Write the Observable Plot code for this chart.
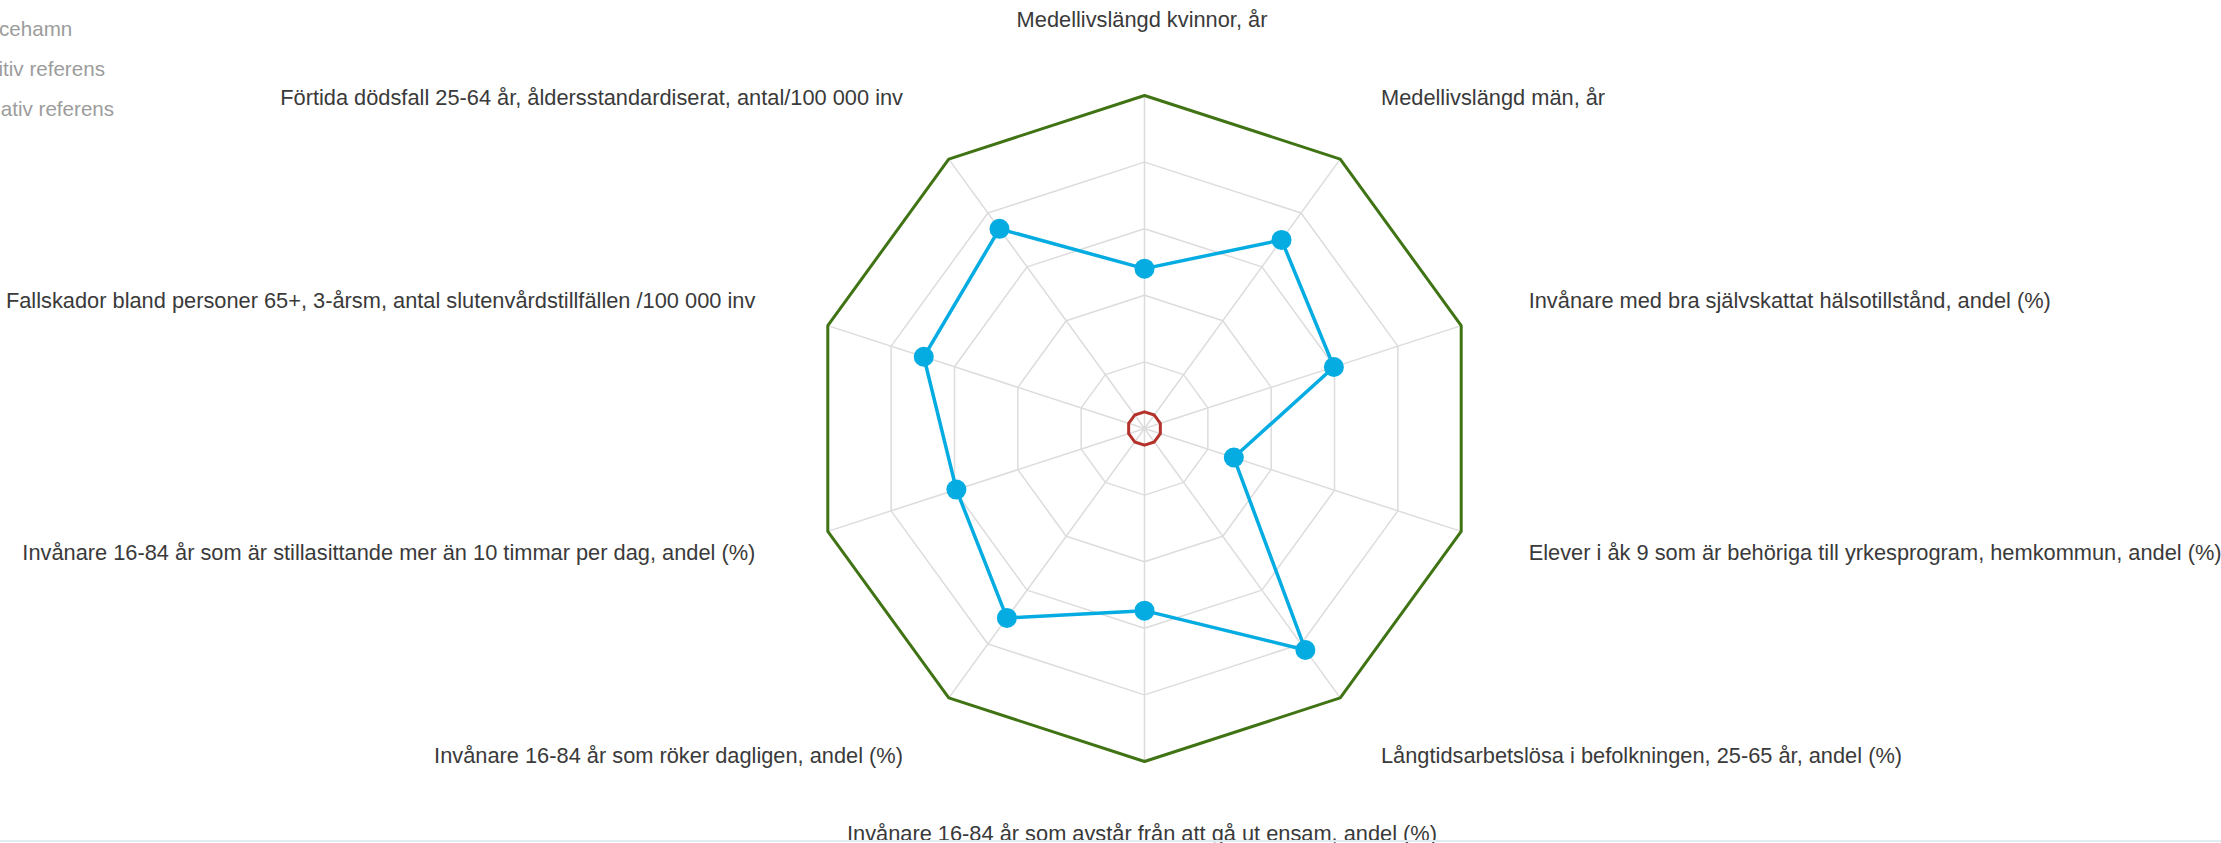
<!DOCTYPE html>
<html><head><meta charset="utf-8">
<script src="https://cdn.jsdelivr.net/npm/d3@7"></script>
<script src="https://cdn.jsdelivr.net/npm/@observablehq/plot@0.6"></script>
<style>
html,body{margin:0;padding:0;background:#fff;width:2221px;height:843px;overflow:hidden;position:relative;font-family:"Liberation Sans",Arial,Helvetica,sans-serif;}
#chart{position:absolute;left:0;top:0;}
#legend{position:absolute;left:-37px;top:9px;font-size:20.6px;color:#9c9c9c;line-height:40px;white-space:nowrap;}
#legend .first{margin-left:36px;}
#rule{position:absolute;left:0;top:840px;width:2221px;height:2px;background:#e2eaf2;}
</style></head><body>
<div id="chart"></div>
<div id="legend"></div>
<div id="rule"></div>
<script>
// ---- data ----
const indicators = [
  "Medellivslängd kvinnor, år",
  "Medellivslängd män, år",
  "Invånare med bra självskattat hälsotillstånd, andel (%)",
  "Elever i åk 9 som är behöriga till yrkesprogram, hemkommun, andel (%)",
  "Långtidsarbetslösa i befolkningen, 25-65 år, andel (%)",
  "Invånare 16-84 år som avstår från att gå ut ensam, andel (%)",
  "Invånare 16-84 år som röker dagligen, andel (%)",
  "Invånare 16-84 år som är stillasittande mer än 10 timmar per dag, andel (%)",
  "Fallskador bland personer 65+, 3-årsm, antal slutenvårdstillfällen /100 000 inv",
  "Förtida dödsfall 25-64 år, åldersstandardiserat, antal/100 000 inv"
];
const kommunValues = [48.0, 70.0, 59.8, 28.2, 82.2, 54.7, 70.3, 59.4, 69.7, 74.1];
const positivReferens = [100, 100, 100, 100, 100, 100, 100, 100, 100, 100];
const negativReferens = [5, 5, 5, 5, 5, 5, 5, 5, 5, 5];
const gridLevels = [20, 40, 60, 80, 100];
const legendLabels = ["cehamn", "Positiv referens", "Negativ referens"];

// ---- helpers ----
const n = indicators.length;
const ang = i => i * 2 * Math.PI / n;
const px = (i, v) => v * Math.sin(ang(i));
const py = (i, v) => v * Math.cos(ang(i));
const LABEL_R = 122.1;

const series = (name, values) => values.map((v, i) => ({name, i, v, x: px(i, v), y: py(i, v)}));
const kommun = series("kommun", kommunValues);
const pos = series("Positiv referens", positivReferens);
const neg = series("Negativ referens", negativReferens);
const grid = gridLevels.flatMap(level => indicators.map((_, i) => ({level, x: px(i, level), y: py(i, level)})));
const spokes = indicators.map((label, i) => ({x1: 0, y1: 0, x2: px(i, 100), y2: py(i, 100)}));
const labels = indicators.map((label, i) => ({label, x: px(i, LABEL_R), y: py(i, LABEL_R), s: Math.sin(ang(i))}));

const cx = 1144, cy = 428, R = 333;
const font = '"Liberation Sans", Arial, Helvetica, sans-serif';
const labelStyle = {x: "x", y: "y", text: "label", fontSize: 21.8, fill: "#3a3a3a", fontFamily: font, dx: -2.5, dy: -1.5};

const chart = Plot.plot({
  width: 2221,
  height: 843,
  margin: 0,
  style: {fontFamily: font, background: "transparent"},
  x: {domain: [-100, 100], range: [cx - R, cx + R], axis: null},
  y: {domain: [-100, 100], range: [cy + R, cy - R], axis: null},
  marks: [
    Plot.link(spokes, {x1: "x1", y1: "y1", x2: "x2", y2: "y2", stroke: "#dcdcdc", strokeWidth: 1.5}),
    Plot.line(grid, {x: "x", y: "y", z: "level", curve: "linear-closed", stroke: "#dcdcdc", strokeWidth: 1.5}),
    Plot.line(pos, {x: "x", y: "y", curve: "linear-closed", stroke: "#3f7313", strokeWidth: 3}),
    Plot.line(neg, {x: "x", y: "y", curve: "linear-closed", stroke: "#b3322b", strokeWidth: 3}),
    Plot.line(kommun, {x: "x", y: "y", curve: "linear-closed", stroke: "#05ace2", strokeWidth: 3.5}),
    Plot.dot(kommun, {x: "x", y: "y", r: 10, fill: "#05ace2", stroke: null}),
    Plot.text(labels.filter(d => d.s > 0.01), {...labelStyle, textAnchor: "start"}),
    Plot.text(labels.filter(d => d.s < -0.01), {...labelStyle, textAnchor: "end"}),
    Plot.text(labels.filter(d => Math.abs(d.s) <= 0.01), {...labelStyle, textAnchor: "middle"})
  ]
});
document.getElementById("chart").appendChild(chart);

const legend = document.getElementById("legend");
legendLabels.forEach((t, k) => {
  const div = document.createElement("div");
  div.textContent = t;
  if (k === 0) div.className = "first";
  legend.appendChild(div);
});
</script>
</body></html>
